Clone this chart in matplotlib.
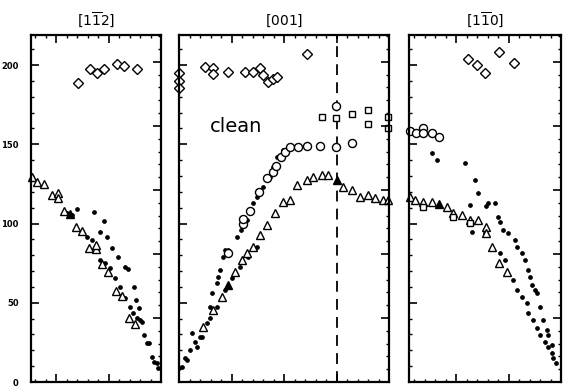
import matplotlib
matplotlib.use("Agg")
import matplotlib.pyplot as plt
from matplotlib.ticker import MultipleLocator

# ---- [1-12] branch (q runs towards Gamma at the right edge) ----
l_dia_q = [1.58, 1.35, 1.22, 1.09, 0.84, 0.70, 0.46]
l_dia_f = [189.0, 197.5, 195.0, 197.5, 200.6, 199.4, 197.5]

l_tri_q = [2.46, 2.36, 2.23, 2.08, 1.96, 1.96, 1.85, 1.62, 1.50, 1.37, 1.24, 1.24,
           1.12, 1.01, 0.86, 0.74, 0.61, 0.50]
l_tri_f = [129.3, 126.2, 124.9, 118.0, 119.2, 116.1, 107.9, 97.8, 95.3, 84.5, 83.9, 86.4,
           74.4, 69.4, 57.4, 54.3, 40.4, 36.6]
l_tri_fill_q = [1.73]
l_tri_fill_f = [106.0]

l_dot_q = [1.60, 1.28, 1.09, 1.16, 1.03, 0.93, 0.82, 0.69, 0.63, 0.51, 0.48, 0.42,
           0.36, 0.32, 0.27, 0.23, 0.17, 0.13, 0.08, 0.06,
           1.79, 1.70, 1.50, 1.41, 1.31, 1.22, 1.16, 1.07, 0.97, 0.88, 0.78, 0.69,
           0.59, 0.53, 0.46, 0.40]
l_dot_f = [109.1, 107.3, 101.6, 94.6, 91.5, 84.5, 78.9, 72.6, 71.3, 59.9, 51.7, 46.7,
           37.9, 29.7, 24.6, 24.6, 15.8, 12.6, 12.0, 8.8,
           106.6, 105.4, 94.6, 91.5, 89.6, 83.3, 77.0, 75.1, 71.9, 65.6, 59.9, 53.0,
           47.3, 43.5, 40.4, 39.1]

# ---- [001] branch (Gamma at the left edge) ----
m_dia_q = [0.0, 0.0, 0.0, 0.50, 0.65, 0.65, 0.93, 1.26, 1.41, 1.54, 1.60, 1.70,
           1.79, 1.87, 2.44]
m_dia_f = [195.0, 189.9, 185.5, 198.7, 198.1, 194.3, 195.6, 195.6, 195.6, 198.1, 193.7,
           189.3, 191.2, 192.4, 206.9]

m_sq_q = [2.72, 2.99, 3.30, 3.60, 3.60, 3.98, 3.98]
m_sq_f = [167.2, 166.6, 169.1, 171.6, 162.8, 167.2, 160.3]

m_circ_q = [0.93, 1.22, 1.22, 1.35, 1.52, 1.68, 1.79, 1.85, 1.94, 2.02, 2.11, 2.27,
            2.44, 2.69, 2.99, 3.30, 2.99]
m_circ_f = [81.4, 99.7, 102.8, 107.9, 119.9, 128.7, 132.5, 136.3, 142.0, 145.1, 148.3,
            148.3, 148.9, 148.9, 148.3, 150.8, 174.1]

m_tri_q = [0.46, 0.65, 0.82, 1.07, 1.20, 1.30, 1.41, 1.54, 1.68, 1.83, 1.98, 2.11,
           2.25, 2.44, 2.55, 2.72, 2.84, 3.12, 3.30, 3.45, 3.60, 3.73, 3.89, 3.98]
m_tri_f = [34.7, 45.4, 53.6, 69.4, 77.0, 81.4, 85.2, 92.7, 99.1, 106.6, 113.6, 114.8,
           124.3, 127.4, 129.3, 130.6, 130.6, 123.0, 121.1, 116.7, 118.0, 116.1, 114.8, 114.8]
m_tri_fill_q = [0.93, 3.01]
m_tri_fill_f = [61.2, 127.4]

m_dot_q = [0.06, 0.15, 0.25, 0.34, 0.44, 0.53, 0.59, 0.63, 0.72, 0.74, 0.78, 0.84,
           0.88, 0.93, 1.10, 1.18, 1.30, 1.39, 1.41, 1.49, 1.60, 1.73, 1.79, 1.87, 1.98,
           0.0, 0.11, 0.21, 0.30, 0.40, 0.59, 0.72, 0.88, 1.01, 1.16, 1.31, 1.49]
m_dot_f = [9.5, 13.9, 30.9, 22.1, 28.4, 37.2, 47.3, 56.2, 62.5, 66.2, 70.7, 78.9,
           83.3, 83.3, 91.5, 95.9, 102.2, 108.5, 112.9, 116.7, 123.0, 129.3, 135.6, 142.0, 146.4,
           8.8, 15.1, 20.2, 25.2, 28.4, 40.4, 47.3, 58.0, 65.6, 72.6, 78.9, 85.2]

zone_edge = 3.0

# ---- [1-10] branch (Gamma at the right edge) ----
r_dia_q = [1.77, 1.60, 1.45, 1.18, 0.90]
r_dia_f = [203.8, 200.0, 195.0, 208.2, 201.3]

r_circ_q = [2.88, 2.76, 2.63, 2.63, 2.46, 2.32]
r_circ_f = [158.4, 157.1, 160.3, 157.1, 157.1, 154.6]

r_tri_q = [2.88, 2.78, 2.63, 2.46, 2.17, 2.06, 1.89, 1.73, 1.58, 1.43, 1.43, 1.31,
           1.18, 1.03]
r_tri_f = [116.7, 114.8, 113.6, 113.6, 110.4, 106.6, 105.4, 102.2, 102.2, 97.8, 94.0,
           85.2, 75.1, 69.4]
r_tri_fill_q = [2.32]
r_tri_fill_f = [112.3]
r_sq_q = [2.63, 2.06, 1.73]
r_sq_f = [110.4, 104.1, 100.3]

r_dot_q = [2.46, 2.36, 1.83, 1.64, 1.58, 1.43, 1.39, 1.26, 1.20, 1.16, 1.10, 1.01,
           0.88, 0.84, 0.74, 0.69, 0.63, 0.59, 0.55, 0.50, 0.46, 0.40, 0.34, 0.27,
           0.25, 0.17, 0.15, 0.10,
           1.73, 1.70, 1.45, 1.16, 1.07, 0.91, 0.84, 0.74, 0.65, 0.63, 0.53, 0.46,
           0.40, 0.30, 0.25, 0.17]
r_dot_f = [144.5, 140.1, 138.2, 127.4, 119.2, 111.0, 112.9, 112.9, 104.1, 100.9, 95.9, 94.0,
           89.6, 85.2, 81.4, 77.0, 70.7, 66.2, 61.2, 58.0, 56.2, 47.3, 39.1, 32.8,
           29.7, 23.3, 15.1, 12.0,
           111.7, 94.6, 94.0, 81.4, 77.0, 64.4, 58.0, 53.6, 49.8, 43.5, 39.1, 34.1,
           29.7, 25.2, 22.1, 18.3]

titles = [r"$[1\overline{1}2]$", r"$[001]$", r"$[1\overline{1}0]$"]
f_ticks = [0, 50, 100, 150, 200]
f_max = 219
# the neighbouring panel uses a different frequency scale on its spine
f2_max = 271

fig = plt.figure(figsize=(5.73, 3.88), dpi=100)
W, H = 573.0, 388.0
bottom = (H - 382) / H
height = (382 - 35) / H
ax_l = fig.add_axes([31 / W, bottom, 130 / W, height])
ax_m = fig.add_axes([179 / W, bottom, 210 / W, height])
ax_r = fig.add_axes([409 / W, bottom, 152 / W, height])

open_kw = dict(ls="none", mfc="white", mec="black", mew=1.0, clip_on=False)
dot_kw = dict(ls="none", marker="o", ms=2.4, color="black")
TRI = 6.2
CIRC = 5.8
DIA = 4.8
SQ = 4.6


def style(ax, xmax, invert, title):
    ax.set_xlim(xmax, 0) if invert else ax.set_xlim(0, xmax)
    ax.set_ylim(0, f_max)
    ax.xaxis.set_major_locator(MultipleLocator(1))
    ax.xaxis.set_minor_locator(MultipleLocator(0.2))
    ax.yaxis.set_major_locator(MultipleLocator(50))
    ax.yaxis.set_minor_locator(MultipleLocator(10))
    ax.tick_params(which="both", direction="in", top=True, bottom=True,
                   left=True, right=False, labelbottom=False, labelleft=False,
                   color="black")
    ax.tick_params(which="major", length=6, width=1.2)
    ax.tick_params(which="minor", length=2.5, width=1.0)
    for s in ax.spines.values():
        s.set_linewidth(1.6)
    ax.set_title(title, fontsize=10, pad=7)
    tw = ax.twinx()
    tw.set_ylim(0, f2_max)
    tw.yaxis.set_major_locator(MultipleLocator(50))
    tw.yaxis.set_minor_locator(MultipleLocator(10))
    tw.tick_params(which="both", direction="in", right=True, labelright=False)
    tw.tick_params(which="major", length=6, width=1.2)
    tw.tick_params(which="minor", length=2.5, width=1.0)
    for s in tw.spines.values():
        s.set_visible(False)
    return tw


style(ax_l, 2.48, True, titles[0])
style(ax_m, 4.0, False, titles[1])
tw_r = style(ax_r, 2.90, True, titles[2])

ax_l.tick_params(labelleft=True, labelsize=6, pad=9)
ax_l.set_yticks(f_ticks)
for t in ax_l.get_yticklabels():
    t.set_fontweight("bold")
tw_r.tick_params(labelright=True, labelsize=6, pad=8)

# left panel
ax_l.plot(l_dot_q, l_dot_f, **dot_kw)
ax_l.plot(l_dia_q, l_dia_f, marker="D", ms=DIA, **open_kw)
ax_l.plot(l_tri_q, l_tri_f, marker="^", ms=TRI, **open_kw)
ax_l.plot(l_tri_fill_q, l_tri_fill_f, ls="none", marker="^", ms=TRI, color="black")

# middle panel
ax_m.axvline(zone_edge, color="black", lw=1.3, ls=(0, (6, 4)))
ax_m.plot(m_dot_q, m_dot_f, **dot_kw)
ax_m.plot(m_dia_q, m_dia_f, marker="D", ms=DIA, **open_kw)
ax_m.plot(m_sq_q, m_sq_f, marker="s", ms=SQ, **open_kw)
ax_m.plot(m_circ_q, m_circ_f, marker="o", ms=CIRC, **open_kw)
ax_m.plot(m_tri_q, m_tri_f, marker="^", ms=TRI, **open_kw)
ax_m.plot(m_tri_fill_q, m_tri_fill_f, ls="none", marker="^", ms=TRI, color="black")
ax_m.text(0.59, 161, "clean", fontsize=14, va="center", ha="left")

# right panel
ax_r.plot(r_dot_q, r_dot_f, **dot_kw)
ax_r.plot(r_dia_q, r_dia_f, marker="D", ms=DIA, **open_kw)
ax_r.plot(r_circ_q, r_circ_f, marker="o", ms=CIRC, **open_kw)
ax_r.plot(r_tri_q, r_tri_f, marker="^", ms=TRI, **open_kw)
ax_r.plot(r_sq_q, r_sq_f, marker="s", ms=SQ, **open_kw)
ax_r.plot(r_tri_fill_q, r_tri_fill_f, ls="none", marker="^", ms=TRI, color="black")

fig.savefig("out.png", dpi=100)
